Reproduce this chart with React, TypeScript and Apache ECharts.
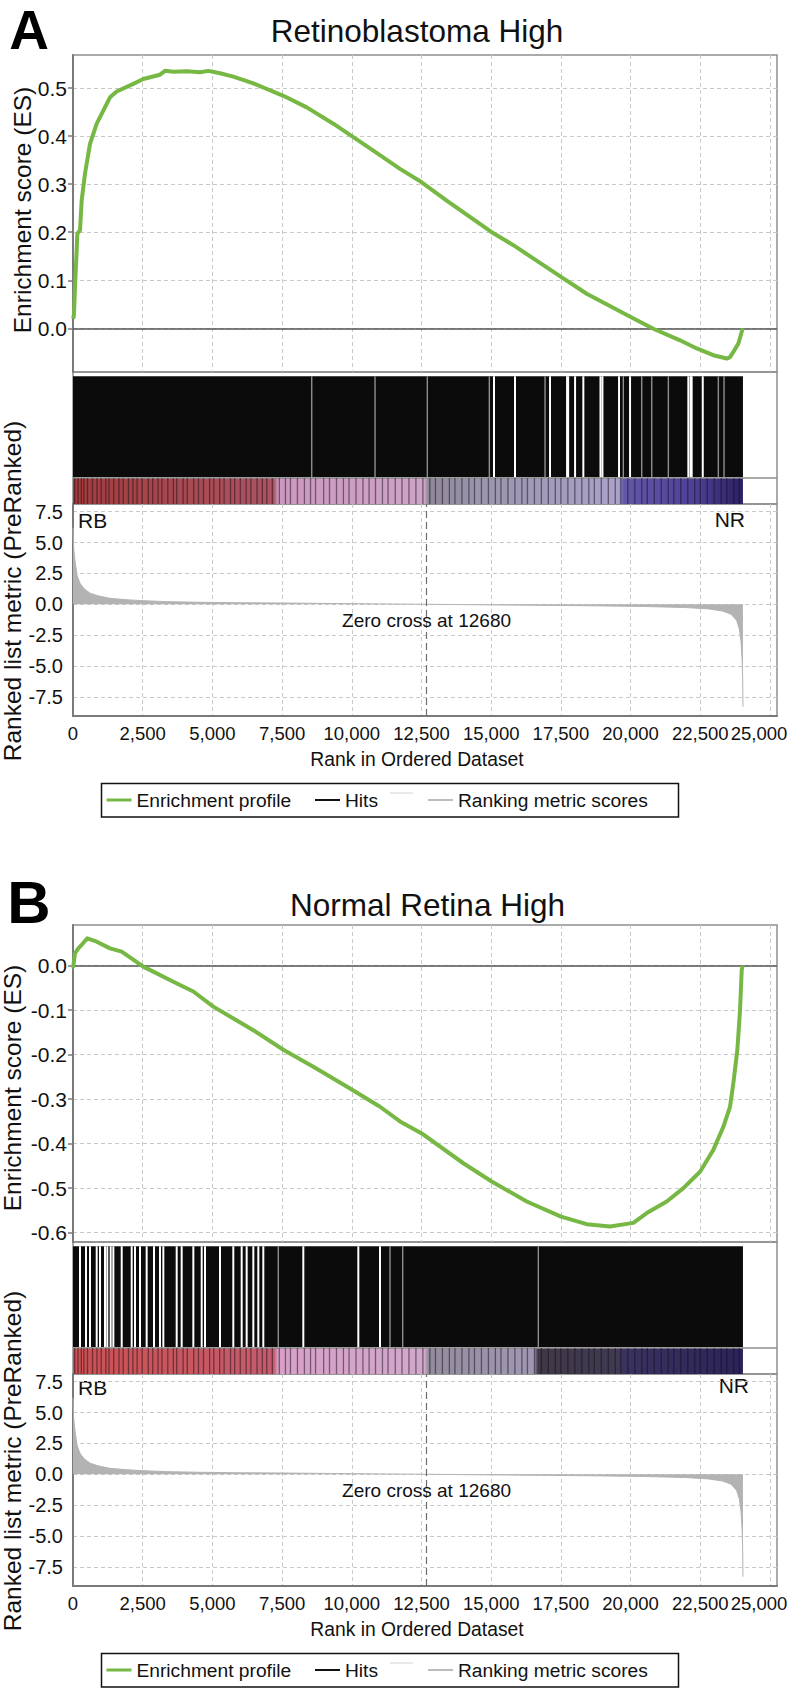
import React, { useEffect, useRef } from 'react';
import * as echarts from 'echarts';

// ---------------- data ----------------
const xTicks = [0, 2500, 5000, 7500, 10000, 12500, 15000, 17500, 20000, 22500, 25000];
const esTicksA = [0, 0.1, 0.2, 0.3, 0.4, 0.5];
const esTicksB = [-0.6, -0.5, -0.4, -0.3, -0.2, -0.1, 0];
const metricTicks = [-7.5, -5, -2.5, 0, 2.5, 5, 7.5];
const zeroCrossRank = 12680;
const firstHitRank = 0;
const lastHitRank = 24030;

const esRanksA = [10, 36, 72, 130, 155, 251, 311, 430, 610, 850, 1087, 1327, 1567, 2163, 2522, 3120, 3300, 3598, 4078, 4555, 4854, 5273, 5750, 6468, 7544, 8383, 9337, 10054, 10772, 11729, 12508, 13403, 15018, 15795, 17505, 18425, 20003, 20815, 21773, 22372, 22968, 23448, 23566, 23685, 23864, 24022];
const esValuesA = [0.02, 0.03, 0.086, 0.16, 0.197, 0.204, 0.266, 0.322, 0.384, 0.426, 0.453, 0.481, 0.493, 0.509, 0.519, 0.528, 0.536, 0.534, 0.535, 0.533, 0.536, 0.531, 0.524, 0.51, 0.484, 0.46, 0.426, 0.398, 0.37, 0.332, 0.304, 0.266, 0.2, 0.173, 0.107, 0.072, 0.0235, -0.001, -0.025, -0.042, -0.056, -0.063, -0.06, -0.049, -0.032, 0.0];

const esRanksB = [0, 11, 72, 190, 311, 513, 850, 1327, 1747, 2522, 3598, 4316, 5033, 6468, 7544, 8620, 9936, 11012, 11729, 12508, 14000, 15018, 16274, 17505, 18425, 19262, 20099, 20578, 21296, 21893, 22491, 22968, 23327, 23566, 23685, 23829, 23925, 23985, 24022];
const esValuesB = [0, -0.002, 0.028, 0.039, 0.047, 0.0615, 0.054, 0.039, 0.0315, -0.002, -0.036, -0.058, -0.092, -0.145, -0.189, -0.227, -0.276, -0.317, -0.35, -0.377, -0.444, -0.485, -0.53, -0.564, -0.581, -0.586, -0.578, -0.556, -0.53, -0.5, -0.463, -0.414, -0.362, -0.317, -0.264, -0.189, -0.1, -0.01, 0.0];

const metricRanks = [0, 10, 30, 72, 150, 251, 400, 610, 900, 1327, 1900, 2520, 3400, 4555, 6000, 7530, 9500, 11000, 12680, 14500, 16500, 18500, 20500, 22000, 22800, 23300, 23600, 23800, 23900, 23960, 24000, 24020, 24030];
const metricValues = [6.2, 5.2, 4.4, 3.5, 2.3, 1.7, 1.25, 0.9, 0.68, 0.48, 0.37, 0.29, 0.21, 0.16, 0.12, 0.1, 0.06, 0.03, 0.0, -0.04, -0.08, -0.12, -0.18, -0.27, -0.38, -0.55, -0.8, -1.3, -2.0, -3.0, -4.5, -6.0, -8.3];

// ranks without hits (white) and thin grey separations inside the hit band
const whiteGapsA = [15101, 15854, 17110, 17721, 17760, 18008, 18305, 18920, 18990, 19585, 19980, 22071, 22150, 22190, 22588];
const grayGapsA = [8562, 10833, 12709, 14933, 16931, 19739, 20399, 20758, 21354, 23147, 23351];
const whiteGapsB = [251, 466, 610, 850, 968, 1148, 1231, 1351, 1447, 1747, 2105, 2224, 2403, 2642, 2905, 3121, 3240, 3719, 3898, 4316, 4616, 4735, 5273, 5750, 6050, 6229, 6468, 6647, 6826, 8261, 10234, 11012];
const grayGapsB = [7364, 11370, 11826, 16690];

// dark lines in the ranked-list heat bar
const barStripes = [60, 180, 300, 390, 520, 700, 860, 1010, 1180, 1290, 1460, 1650, 1800, 1990, 2150, 2300, 2480, 2700, 2860, 3050, 3190, 3400, 3600, 3720, 3950, 4100, 4330, 4500, 4680, 4900, 5050, 5260, 5420, 5650, 5800, 6000, 6210, 6380, 6600, 6790, 6950, 7150, 7400, 7620, 7800, 8050, 8300, 8520, 8700, 8990, 9200, 9450, 9700, 9900, 10150, 10400, 10620, 10850, 11100, 11300, 11560, 11800, 12050, 12300, 12550, 12800, 13000, 13250, 13500, 13700, 13950, 14200, 14400, 14650, 14900, 15150, 15350, 15600, 15850, 16100, 16300, 16550, 16800, 17050, 17300, 17500, 17750, 18000, 18250, 18500, 18700, 18950, 19200, 19450, 19650, 19900, 20150, 20400, 20600, 20850, 21100, 21350, 21550, 21800, 22050, 22300, 22500, 22750, 23000, 23250, 23450, 23700, 23900];

const titles = ['Retinoblastoma High', 'Normal Retina High'];
const panelLetters = ['A', 'B'];
const legendLabels = ['Enrichment profile', 'Hits', 'Ranking metric scores'];

// ---------------- styling / layout ----------------
const FONT = "'Liberation Sans', Arial, Helvetica, sans-serif";
const X_MAX = 25251;
const GRID_LEFT = 73;
const GRID_WIDTH = 704;
const FRAME = '#8e8e8e';
const AXIS_DARK = '#7a7a7a';
const GRID_LINE = { color: '#c9c9c9', type: [4, 3], width: 1 };
const GREEN = '#76b843';
const METRIC_GRAY = '#b3b3b3';
const BAND_H = 132;
const BAR_TOP = 26;
const HIT_BOTTOM = 26.7;
const HIT_TOP = 127.7;

const barStopsA: [number, string][] = [
  [0, '#a23c3c'], [0.3, '#ac5462'], [0.306, '#cc98c0'], [0.525, '#cca4c6'],
  [0.53, '#8e8898'], [0.6, '#9a94ac'], [0.815, '#aaa2c8'], [0.822, '#6258aa'],
  [0.93, '#4c4094'], [1, '#2c2064'],
];
const barStopsB: [number, string][] = [
  [0, '#cc5050'], [0.3, '#c45c6c'], [0.306, '#d8a0c8'], [0.525, '#d0a8cc'],
  [0.53, '#928c9c'], [0.688, '#a098b4'], [0.694, '#3e3846'], [0.815, '#403a52'],
  [0.822, '#3a3260'], [1, '#2a2458'],
];

const fmtThousands = (v: number) => String(Math.round(v)).replace(/\B(?=(\d{3})+(?!\d))/g, ',');
const fmtXLabel = (v: number) => (v === xTicks[xTicks.length - 1] ? `{last|${fmtThousands(v)}}` : fmtThousands(v));

const panels = [
  {
    off: 0, esMin: -0.091, esMax: 0.569, esTicks: esTicksA, esR: esRanksA, esV: esValuesA,
    white: whiteGapsA, gray: grayGapsA, stops: barStopsA,
    letterY: 30, letterSize: 55, titleX: 417, titleY: 31,
    esNameX: 22.5, esNameY: 210, rbY: 520, nrX: 745, nrY: 519,
  },
  {
    off: 870, esMin: -0.621, esMax: 0.0915, esTicks: esTicksB, esR: esRanksB, esV: esValuesB,
    white: whiteGapsB, gray: grayGapsB, stops: barStopsB,
    letterY: 32, letterSize: 60, titleX: 427.5, titleY: 35,
    esNameX: 12, esNameY: 218, rbY: 517.5, nrX: 749, nrY: 515,
  },
];

const renderBlock = (params: any, api: any) => {
  const p0 = api.coord([api.value(0), HIT_TOP]);
  const p1 = api.coord([api.value(1), HIT_BOTTOM]);
  return {
    type: 'rect',
    shape: { x: p0[0], y: p0[1], width: p1[0] - p0[0], height: p1[1] - p0[1] },
    style: { fill: '#0b0b0b' },
  };
};
const renderGap = (color: string, w: number) => (params: any, api: any) => {
  const p0 = api.coord([api.value(0), HIT_TOP]);
  const p1 = api.coord([api.value(0), HIT_BOTTOM]);
  return {
    type: 'rect',
    shape: { x: p0[0] - w / 2, y: p0[1], width: w, height: p1[1] - p0[1] },
    style: { fill: color },
  };
};
const renderBar = (stops: [number, string][]) => (params: any, api: any) => {
  const p0 = api.coord([api.value(0), BAR_TOP]);
  const p1 = api.coord([api.value(1), 0]);
  const cs = params.coordSys;
  return {
    type: 'group',
    children: [
      {
        type: 'rect',
        shape: { x: p0[0], y: p0[1], width: p1[0] - p0[0], height: p1[1] - p0[1] },
        style: {
          fill: new echarts.graphic.LinearGradient(0, 0, 1, 0, stops.map(([o, c]) => ({ offset: o, color: c }))),
        },
      },
      {
        type: 'line',
        shape: { x1: cs.x, y1: p0[1], x2: cs.x + cs.width, y2: p0[1] },
        style: { stroke: FRAME, lineWidth: 1.5 },
      },
    ],
  };
};
const renderStripe = (params: any, api: any) => {
  const p0 = api.coord([api.value(0), BAR_TOP]);
  const p1 = api.coord([api.value(0), 0]);
  return {
    type: 'rect',
    shape: { x: p0[0] - 0.65, y: p0[1], width: 1.3, height: p1[1] - p0[1] },
    style: { fill: 'rgba(25,12,25,0.5)' },
  };
};

function buildOption() {
  const grid: any[] = [];
  const xAxis: any[] = [];
  const yAxis: any[] = [];
  const series: any[] = [];
  const graphic: any[] = [];

  panels.forEach((p, i) => {
    const g0 = i * 3;
    const tops = [55 + p.off, 372 + p.off, 504 + p.off];
    const heights = [317, BAND_H, 212];
    tops.forEach((t, k) => {
      grid.push({
        left: GRID_LEFT, top: t, width: GRID_WIDTH, height: heights[k],
        show: true, borderColor: FRAME, borderWidth: 1.5, backgroundColor: 'transparent',
        containLabel: false, outerBoundsMode: 'none',
      });
      const isMetric = k === 2;
      const isHits = k === 1;
      xAxis.push({
        gridIndex: g0 + k, type: 'value', min: 0, max: X_MAX,
        axisLine: { show: isMetric, onZero: false, lineStyle: { color: AXIS_DARK, width: 2 } },
        axisTick: { show: false, customValues: xTicks },
        axisLabel: {
          show: isMetric, customValues: xTicks, formatter: fmtXLabel, hideOverlap: false,
          fontSize: 18.5, color: '#111', fontFamily: FONT, margin: 7, lineHeight: 20,
          rich: { last: { fontSize: 18.5, color: '#111', fontFamily: FONT, padding: [0, 22, 0, 0] } },
        },
        splitLine: { show: !isHits, lineStyle: GRID_LINE },
      });
    });
    // y axes
    yAxis.push({
      gridIndex: g0, type: 'value', min: p.esMin, max: p.esMax,
      axisLine: { show: true, onZero: false, lineStyle: { color: AXIS_DARK, width: 2 } },
      axisTick: { show: true, length: 5, customValues: p.esTicks, lineStyle: { color: AXIS_DARK, width: 1.5 } },
      axisLabel: {
        customValues: p.esTicks, formatter: (v: number) => v.toFixed(1),
        fontSize: 21, color: '#111', fontFamily: FONT, margin: 6,
      },
      splitLine: { show: true, lineStyle: GRID_LINE },
    });
    yAxis.push({ gridIndex: g0 + 1, type: 'value', min: 0, max: BAND_H, show: false });
    yAxis.push({
      gridIndex: g0 + 2, type: 'value', min: -9.05, max: 8.12,
      axisLine: { show: true, onZero: false, lineStyle: { color: AXIS_DARK, width: 2 } },
      axisTick: { show: false, customValues: metricTicks },
      axisLabel: {
        customValues: metricTicks, formatter: (v: number) => v.toFixed(1),
        fontSize: 20, color: '#111', fontFamily: FONT, margin: 10,
      },
      splitLine: { show: true, lineStyle: GRID_LINE },
    });

    // enrichment profile
    series.push({
      type: 'line', xAxisIndex: g0, yAxisIndex: g0, name: 'Enrichment profile',
      data: p.esR.map((r, j) => [r, p.esV[j]]),
      symbol: 'none', showSymbol: false, z: 5,
      lineStyle: { color: GREEN, width: 4, join: 'round' },
      markLine: {
        silent: true, symbol: ['none', 'none'], label: { show: false },
        lineStyle: { color: '#555', width: 1.5, type: 'solid' },
        data: [{ yAxis: 0 }],
      },
    });
    // hits
    series.push({
      type: 'custom', xAxisIndex: g0 + 1, yAxisIndex: g0 + 1, z: 2,
      data: [[firstHitRank, lastHitRank]], renderItem: renderBlock,
    });
    series.push({
      type: 'custom', xAxisIndex: g0 + 1, yAxisIndex: g0 + 1, z: 3,
      data: p.gray.map((r) => [r, 0]), renderItem: renderGap('#8f8f8f', 1.4),
    });
    series.push({
      type: 'custom', xAxisIndex: g0 + 1, yAxisIndex: g0 + 1, z: 3,
      data: p.white.map((r) => [r, 0]), renderItem: renderGap('#ffffff', 2),
    });
    // heat bar
    series.push({
      type: 'custom', xAxisIndex: g0 + 1, yAxisIndex: g0 + 1, z: 3,
      data: [[firstHitRank, lastHitRank]], renderItem: renderBar(p.stops),
    });
    series.push({
      type: 'custom', xAxisIndex: g0 + 1, yAxisIndex: g0 + 1, z: 4,
      data: barStripes.map((r) => [r, 0]), renderItem: renderStripe,
    });
    // ranked list metric
    series.push({
      type: 'line', xAxisIndex: g0 + 2, yAxisIndex: g0 + 2, name: 'Ranking metric scores',
      data: metricRanks.map((r, j) => [r, metricValues[j]]),
      symbol: 'none', showSymbol: false, z: 3,
      lineStyle: { color: METRIC_GRAY, width: 1 },
      areaStyle: { color: METRIC_GRAY, opacity: 1 },
      markLine: {
        silent: true, symbol: ['none', 'none'], label: { show: false },
        lineStyle: { color: '#6e6e6e', width: 1.2, type: [7, 4] },
        data: [{ xAxis: zeroCrossRank }],
      },
      markPoint: {
        silent: true, symbol: 'circle', symbolSize: 1,
        itemStyle: { color: 'rgba(0,0,0,0)' },
        label: {
          show: true, position: 'bottom', distance: 6,
          formatter: `Zero cross at ${zeroCrossRank}`,
          fontSize: 19, color: '#111', fontFamily: FONT,
        },
        data: [{ coord: [zeroCrossRank, 0] }],
      },
    });

    // texts
    const o = p.off;
    graphic.push(
      {
        type: 'text', x: 29, y: p.letterY + o,
        style: { text: panelLetters[i], fontSize: p.letterSize, fontWeight: 'bold', fontFamily: FONT, fill: '#000', align: 'center', verticalAlign: 'middle' },
      },
      {
        type: 'text', x: p.titleX, y: p.titleY + o,
        style: { text: titles[i], fontSize: 31.5, fontFamily: FONT, fill: '#111', align: 'center', verticalAlign: 'middle' },
      },
      {
        type: 'text', x: p.esNameX, y: p.esNameY + o, rotation: Math.PI / 2,
        style: { text: 'Enrichment score (ES)', fontSize: 24.5, fontFamily: FONT, fill: '#111', align: 'center', verticalAlign: 'middle' },
      },
      {
        type: 'text', x: 12, y: 591 + o, rotation: Math.PI / 2,
        style: { text: 'Ranked list metric (PreRanked)', fontSize: 24.5, fontFamily: FONT, fill: '#111', align: 'center', verticalAlign: 'middle' },
      },
      {
        type: 'text', x: 417, y: 759 + o,
        style: { text: 'Rank in Ordered Dataset', fontSize: 19.3, fontFamily: FONT, fill: '#111', align: 'center', verticalAlign: 'middle' },
      },
      {
        type: 'text', x: 78, y: p.rbY + o,
        style: { text: 'RB', fontSize: 21, fontFamily: FONT, fill: '#111', align: 'left', verticalAlign: 'middle' },
      },
      {
        type: 'text', x: p.nrX, y: p.nrY + o,
        style: { text: 'NR', fontSize: 21, fontFamily: FONT, fill: '#111', align: 'right', verticalAlign: 'middle' },
      },
      // legend
      {
        type: 'rect', shape: { x: 101.5, y: 783.5 + o, width: 577, height: 33.5 },
        style: { fill: '#fff', stroke: '#111', lineWidth: 1.5 },
      },
      { type: 'line', shape: { x1: 106.5, y1: 800 + o, x2: 131.5, y2: 800 + o }, style: { stroke: GREEN, lineWidth: 3 } },
      {
        type: 'text', x: 136.5, y: 800 + o,
        style: { text: legendLabels[0], fontSize: 19.2, fontFamily: FONT, fill: '#111', align: 'left', verticalAlign: 'middle' },
      },
      { type: 'line', shape: { x1: 315, y1: 800 + o, x2: 340, y2: 800 + o }, style: { stroke: '#111', lineWidth: 2 } },
      {
        type: 'text', x: 345, y: 800 + o,
        style: { text: legendLabels[1], fontSize: 19.2, fontFamily: FONT, fill: '#111', align: 'left', verticalAlign: 'middle' },
      },
      { type: 'line', shape: { x1: 390, y1: 793 + o, x2: 413, y2: 793 + o }, style: { stroke: '#d4d4d4', lineWidth: 1 } },
      { type: 'line', shape: { x1: 428, y1: 800 + o, x2: 453, y2: 800 + o }, style: { stroke: '#bdbdbd', lineWidth: 2 } },
      {
        type: 'text', x: 458, y: 800 + o,
        style: { text: legendLabels[2], fontSize: 19.2, fontFamily: FONT, fill: '#111', align: 'left', verticalAlign: 'middle' },
      },
    );
  });

  return {
    animation: false,
    backgroundColor: '#ffffff',
    textStyle: { fontFamily: FONT },
    grid, xAxis, yAxis, series, graphic,
  };
}

export default function App() {
  const ref = useRef<HTMLDivElement>(null);
  useEffect(() => {
    if (!ref.current) return;
    const chart = echarts.init(ref.current, null, { renderer: 'svg' });
    chart.setOption(buildOption() as any);
    return () => chart.dispose();
  }, []);
  return (
    <div
      ref={ref}
      style={{ position: 'absolute', left: 0, top: 0, width: 788, height: 1689, background: '#fff' }}
    />
  );
}
